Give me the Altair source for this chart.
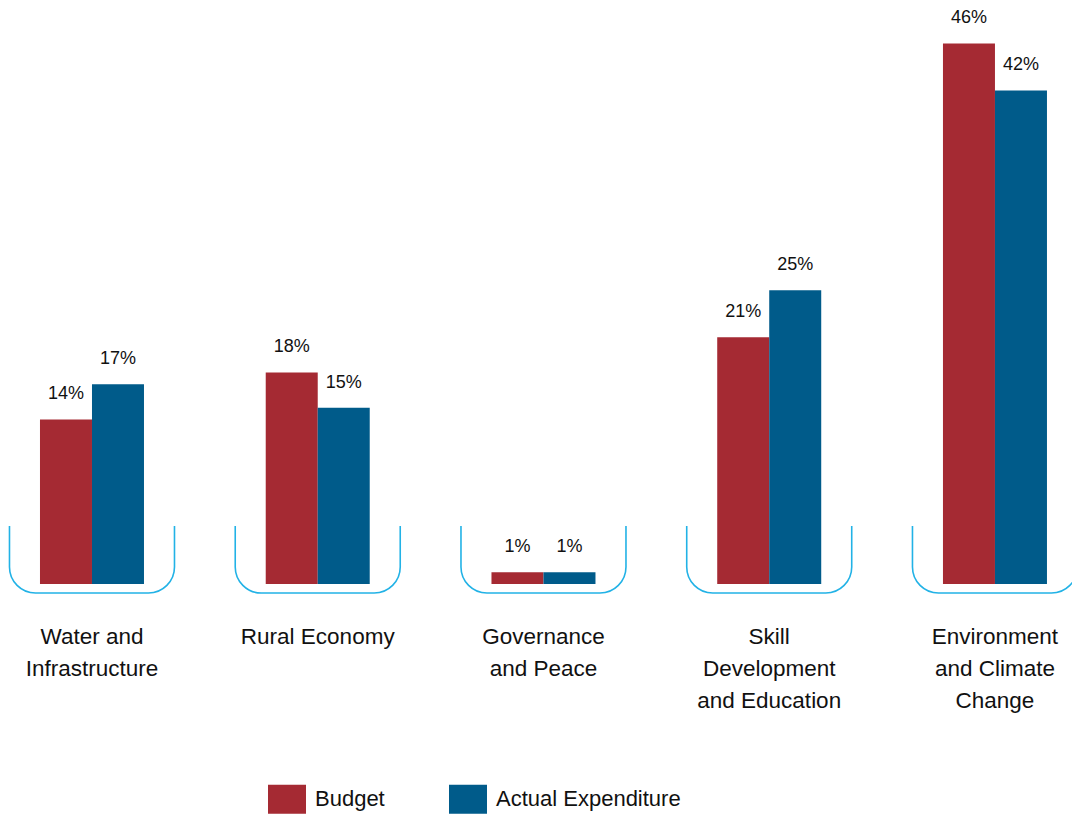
import altair as alt
import pandas as pd

categories = ["Water and|Infrastructure", "Rural Economy", "Governance|and Peace",
              "Skill|Development|and Education", "Environment|and Climate|Change"]
series = ["Budget", "Actual Expenditure"]
budget = [14, 18, 1, 21, 46]
actual = [17, 15, 1, 25, 42]
colors = ["#A52A33", "#005B8A"]

rows = []
for c, b, a in zip(categories, budget, actual):
    rows.append({"cat": c, "series": "Budget", "value": b})
    rows.append({"cat": c, "series": "Actual Expenditure", "value": a})
df = pd.DataFrame(rows)
df["label"] = df["value"].astype(str) + "%"

brk = pd.DataFrame({"cat": categories})

FONT = "Liberation Sans"
y_scale = alt.Scale(domain=[-0.936, 49.70], nice=False, zero=False)
x_scale = alt.Scale(domain=categories, paddingInner=0.5393, paddingOuter=0.144, align=0.615)

x_enc = alt.X("cat:N", scale=x_scale, sort=categories,
              axis=alt.Axis(title=None, domain=False, ticks=False, labelAngle=0,
                            labelExpr="split(datum.label, '|')", labelFont=FONT,
                            labelFontSize=22.5, labelLineHeight=32, labelColor="#111111",
                            labelPadding=30, labelLimit=300))

bracket = alt.Chart(brk).mark_bar(width=165, cornerRadius=26, fill="white", fillOpacity=0,
                                  stroke="#22B2E6", strokeWidth=1.6, clip=True).encode(
    x=x_enc,
    y=alt.Y("b:Q", scale=y_scale, axis=None),
    y2="t:Q",
).transform_calculate(b="-0.766", t="10")

mask = alt.Chart(brk).mark_bar(width=172, color="white", clip=True).encode(
    x=x_enc,
    y=alt.Y("b:Q", scale=y_scale, axis=None),
    y2="t:Q",
).transform_calculate(b="4.94", t="11.5")

bars = alt.Chart(df).mark_bar().encode(
    x=x_enc,
    xOffset=alt.XOffset("series:N", sort=series,
                        scale=alt.Scale(domain=series, paddingInner=0, paddingOuter=0)),
    y=alt.Y("value:Q", scale=y_scale, axis=None),
    y2=alt.datum(0),
    color=alt.Color("series:N", sort=series,
                    scale=alt.Scale(domain=series, range=colors),
                    legend=alt.Legend(title=None, orient="none", legendX=268, legendY=780,
                                      direction="horizontal", labelFont=FONT, labelFontSize=22,
                                      labelColor="#111111", labelOffset=9, columnPadding=64,
                                      labelLimit=400,
                                      symbolType="M-1,-0.763H1V0.763H-1Z", symbolSize=1444,
                                      symbolStrokeWidth=0, symbolOpacity=1, padding=0)),
)

text = alt.Chart(df).mark_text(font=FONT, fontSize=18, dy=-20, baseline="alphabetic",
                               color="#111111").encode(
    x=x_enc,
    xOffset=alt.XOffset("series:N", sort=series,
                        scale=alt.Scale(domain=series, paddingInner=0, paddingOuter=0)),
    y=alt.Y("value:Q", scale=y_scale, axis=None),
    text="label:N",
)

chart = alt.layer(bracket, mask, bars, text).properties(
    width=1072, height=595, padding=0
).configure_view(stroke=None)

chart.save("out.html", embed_options={"renderer": "svg", "actions": False})
